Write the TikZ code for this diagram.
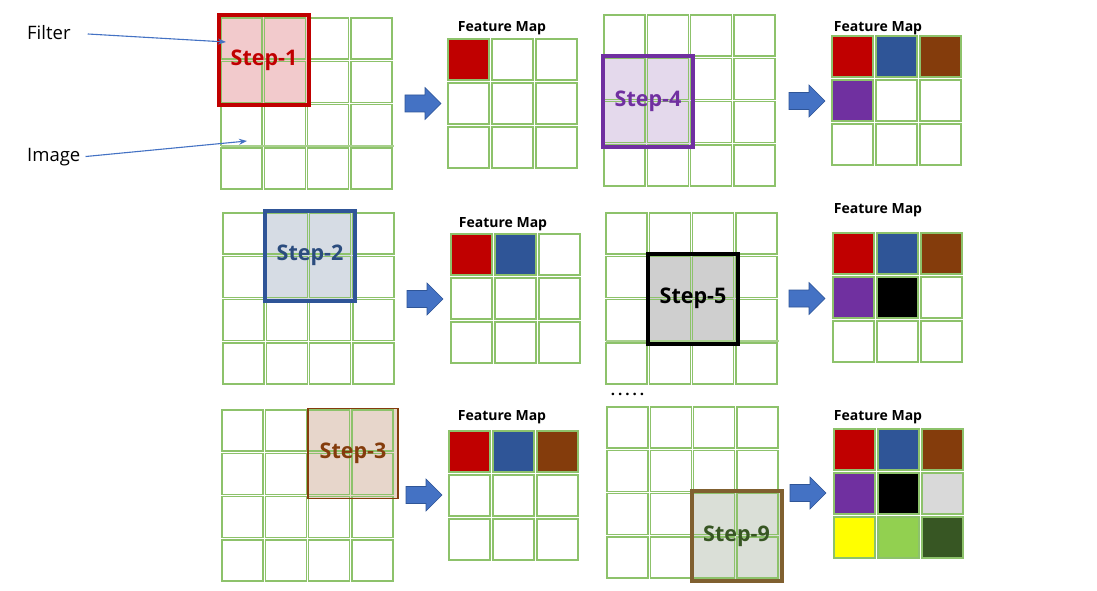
\documentclass[tikz,border=0pt]{standalone}
\usepackage{fontspec}
\setmainfont{Open Sans}
\usetikzlibrary{arrows.meta}
\definecolor{cellgreen}{HTML}{8DC26B}
\definecolor{arrowblue}{HTML}{4472C4}
\definecolor{arrowedge}{HTML}{2F5597}
\definecolor{cRed}{HTML}{C00000}
\definecolor{cBlue}{HTML}{2F5597}
\definecolor{cBrown}{HTML}{843C0C}
\definecolor{cPurple}{HTML}{7030A0}
\definecolor{cBlack}{HTML}{000000}
\definecolor{cLgray}{HTML}{D9D9D9}
\definecolor{cYellow}{HTML}{FFFF00}
\definecolor{cLgreen}{HTML}{92D050}
\definecolor{cDgreen}{HTML}{375623}
\definecolor{cOlive}{HTML}{806030}
\definecolor{tBlue}{HTML}{2B4C7E}
\definecolor{fOne}{HTML}{F2CACC}
\definecolor{fTwo}{HTML}{D6DCE4}
\definecolor{fThree}{HTML}{E7D6CB}
\definecolor{fFour}{HTML}{E4D9EC}
\definecolor{fFive}{HTML}{CFCFCF}
\definecolor{fNine}{HTML}{DADFD7}
\definecolor{lineGreen}{HTML}{A8D08D}
\newcommand{\imggrid}[3]{\foreach \r in {0,...,3}{\foreach \c in {0,...,3}{\node[cell] (#1-\r-\c) at ({#2+20.5+\c*43.3},{#3+20.5+\r*43.3}) {};}}}
\newcommand{\fmap}[4]{\foreach \col [count=\i from 0] in {#4}{\pgfmathtruncatemacro{\rr}{\i/3}\pgfmathtruncatemacro{\cc}{\i-3*\rr}\node[cell,fill=\col] (#1-\rr-\cc) at ({#2+20.5+\cc*44},{#3+20.5+\rr*44}) {};}}
\newcommand{\blockarrow}[3]{\coordinate (#1) at (#2,#3); \draw[blockarr] (#1) ++(0,-8.5) -- ++(20,0) -- ++(0,-7.5) -- ++(16,16) -- ++(-16,16) -- ++(0,-7.5) -- ++(-20,0) -- cycle;}
\tikzset{
  cell/.style={draw=cellgreen, line width=1.3pt, minimum size=41pt, inner sep=0pt, outer sep=0pt},
  blockarr/.style={fill=arrowblue, draw=arrowedge, line width=0.6pt, line join=miter},
  filtbg/.style={inner sep=0pt, outer sep=0pt, minimum width=90pt, minimum height=90pt},
  filt/.style={inner sep=0pt, outer sep=0pt, minimum width=90pt, minimum height=90pt, font=\fontsize{21.5}{21.5}\selectfont\bfseries},
  fmlabel/.style={font=\fontsize{14}{14}\selectfont\bfseries, inner sep=0pt},
  annot/.style={font=\fontsize{18.5}{18.5}\selectfont, inner sep=0pt},
  annarrow/.style={draw=arrowblue, line width=1.1pt, -{Stealth[length=8pt,width=6pt]}}
}
\begin{document}
\begin{tikzpicture}[x=1pt,y=-1pt]
\useasboundingbox[fill=white] (0,0) rectangle (1097,591);

% ---------- Panel 1 ----------
\node[filtbg, fill=fOne] (f1bg) at (264,60.5) {};
\imggrid{g1}{221}{18}
\draw[lineGreen, line width=2pt] (221,145.5) -- (394,145.5);
\node[filt, draw=cRed, line width=4pt, text=cRed] (f1) at (264,60.5) {Step-1};
\blockarrow{a1}{405}{103.5}
\node[fmlabel] (l1) at (502,28) {Feature Map};
\fmap{m1}{448}{39}{cRed,white,white,white,white,white,white,white,white}

% annotations
\node[annot, anchor=west] (filterlbl) at (27,33) {Filter};
\node[annot, anchor=west] (imagelbl) at (27,157) {Image};
\coordinate (ftip) at (226,42);
\coordinate (itip) at (247,141);
\draw[annarrow, shorten <=17pt] (filterlbl.east) -- (ftip);
\draw[annarrow, shorten <=5pt] (imagelbl.east) -- (itip);

% ---------- Panel 2 ----------
\node[filtbg, fill=fTwo] (f2bg) at (310,255.5) {};
\imggrid{g2}{223}{213}
\node[filt, draw=cBlue, line width=4pt, text=tBlue] (f2) at (310,255.5) {Step-2};
\blockarrow{a2}{407}{299}
\node[fmlabel] (l2) at (503,224) {Feature Map};
\fmap{m2}{451}{234}{cRed,cBlue,white,white,white,white,white,white,white}

% ---------- Panel 3 ----------
\node[filtbg, fill=fThree] (f3bg) at (353,453.5) {};
\imggrid{g3}{222}{410}
\node[filt, draw=cBrown, line width=1.5pt, text=cBrown] (f3) at (353,453.5) {Step-3};
\blockarrow{a3}{406}{495}
\node[fmlabel] (l3) at (502,417) {Feature Map};
\fmap{m3}{449}{431}{cRed,cBlue,cBrown,white,white,white,white,white,white}

% ---------- Panel 4 ----------
\node[filtbg, fill=fFour] (f4bg) at (648,101.5) {};
\imggrid{g4}{604}{15}
\node[filt, draw=cPurple, line width=4pt, text=cPurple] (f4) at (648,101.5) {Step-4};
\blockarrow{a4}{789}{101}
\node[fmlabel] (l4) at (878,28) {Feature Map};
\fmap{m4}{832}{36}{cRed,cBlue,cBrown,cPurple,white,white,white,white,white}

% ---------- Panel 5 ----------
\node[filtbg, fill=fFive] (f5bg) at (693,298.5) {};
\imggrid{g5}{606}{213}
\draw[lineGreen, line width=2pt] (606,341) -- (779,341);
\node[filt, draw=cBlack, line width=4pt, text=cBlack] (f5) at (693,298.5) {Step-5};
\blockarrow{a5}{789}{298.5}
\node[fmlabel] (l5) at (878,210) {Feature Map};
\fmap{m5}{833}{233}{cRed,cBlue,cBrown,cPurple,cBlack,white,white,white,white}

\node[font=\fontsize{15}{15}\selectfont\bfseries, inner sep=0pt] (dots) at (627.5,394) {.\kern3pt.\kern3pt.\kern3pt.\kern3pt.};

% ---------- Panel 9 ----------
\node[filtbg, fill=fNine] (f9bg) at (736.5,536) {};
\imggrid{g9}{607}{407}
\node[filt, draw=cOlive, line width=4pt, text=cDgreen] (f9) at (736.5,536) {Step-9};
\blockarrow{a9}{790}{493}
\node[fmlabel] (l9) at (878,417) {Feature Map};
\fmap{m9}{834}{429}{cRed,cBlue,cBrown,cPurple,cBlack,cLgray,cYellow,cLgreen,cDgreen}
\end{tikzpicture}
\end{document}
